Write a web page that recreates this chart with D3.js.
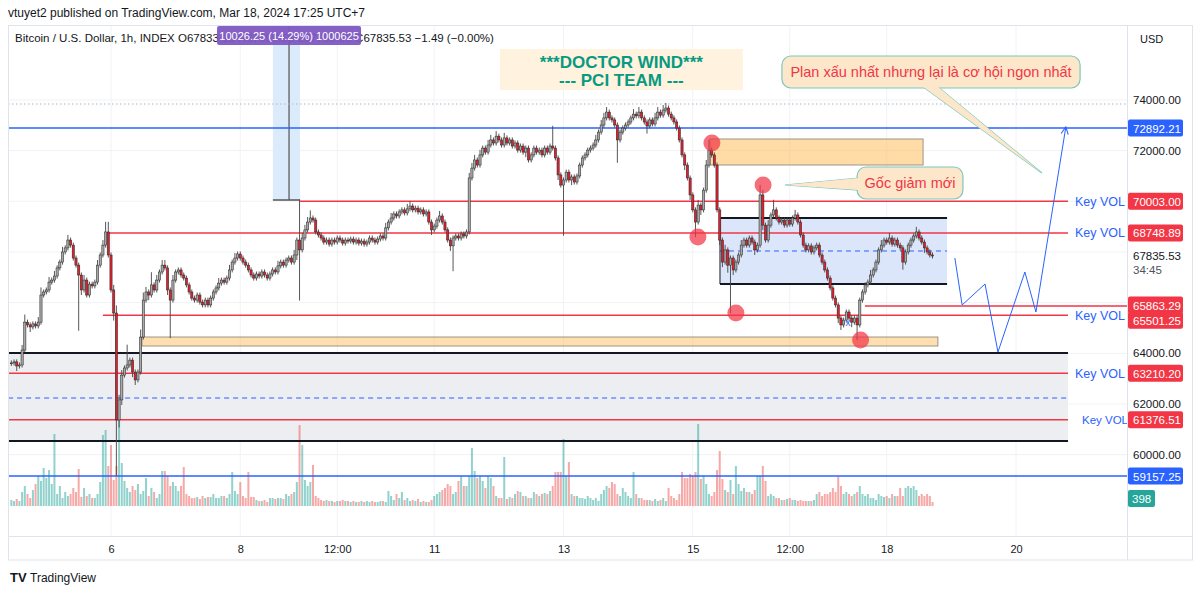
<!DOCTYPE html>
<html><head><meta charset="utf-8">
<script src="https://cdn.jsdelivr.net/npm/d3@7"></script>
<style>body{margin:0;background:#fff}svg{display:block;font-family:"Liberation Sans",Arial,sans-serif}</style>
</head><body><svg id="c" width="1200" height="592"></svg>
<script>
// ---------- DATA ----------
// hourly closes (thousand USD), first candle = Mar 4 11:00 (UTC+7)
const firstOpen = 63.60;
const closes = [
63.62,63.66,63.50,63.54,64.13,65.23,65.12,65.04,65.16,65.08,
65.23,66.30,66.42,66.50,66.81,66.89,67.05,67.37,67.60,68.00,
68.16,68.47,68.27,67.76,67.48,67.09,66.50,66.89,66.30,66.73,
66.66,66.81,67.48,67.88,68.27,68.79,67.88,66.50,65.59,61.37,
62.16,63.14,63.42,63.54,63.73,63.26,62.95,63.26,64.64,66.10,
66.42,66.30,66.70,66.50,66.89,67.21,67.48,67.37,66.50,66.10,
66.89,67.21,67.29,67.09,66.97,66.70,66.42,66.18,66.10,66.30,
66.02,65.91,66.10,65.91,66.18,66.42,66.58,66.77,66.89,66.81,
66.97,67.29,67.60,67.76,67.92,67.76,67.60,67.48,67.29,67.09,
66.97,67.13,67.05,67.21,67.09,66.97,67.13,67.29,67.21,67.45,
67.60,67.48,67.68,67.76,67.60,67.88,68.47,68.08,68.55,68.87,
69.18,69.34,69.26,68.79,68.67,68.55,68.39,68.47,68.31,68.47,
68.39,68.55,68.47,68.35,68.47,68.43,68.51,68.39,68.47,68.35,
68.43,68.31,68.39,68.55,68.47,68.39,68.51,68.63,68.55,68.95,
69.18,69.34,69.50,69.42,69.58,69.66,69.54,69.70,69.81,69.66,
69.73,69.58,69.66,69.50,69.58,69.18,68.87,69.02,69.26,69.42,
69.18,68.87,68.47,68.24,68.55,68.63,68.55,68.71,68.63,68.79,
70.92,71.31,71.63,71.43,71.83,72.10,71.94,72.22,72.42,72.30,
72.57,72.42,72.22,72.50,72.30,72.42,72.18,72.30,72.02,72.18,
71.94,72.10,71.63,71.83,72.10,71.94,72.02,71.83,72.10,71.94,
72.18,72.10,71.71,71.04,70.64,70.84,71.15,70.84,70.96,70.76,
71.00,71.43,71.71,71.83,72.02,72.10,72.22,72.42,72.73,73.01,
73.29,73.52,73.29,73.21,73.01,72.42,72.73,72.89,73.01,73.13,
73.29,73.44,73.37,73.52,73.29,73.13,72.97,73.21,73.05,73.29,
73.52,73.40,73.60,73.68,73.44,73.29,73.13,72.89,72.42,71.83,
71.43,70.92,70.25,69.66,69.18,69.85,69.66,70.44,71.43,72.02,
71.83,71.43,69.66,68.47,67.60,68.08,67.48,67.76,67.29,67.60,
67.88,68.27,68.47,68.27,68.55,68.39,68.08,68.27,70.25,69.06,
68.47,69.06,69.46,69.66,69.34,69.18,69.26,69.06,69.26,69.10,
69.34,69.46,69.18,68.67,68.27,68.08,68.24,68.00,68.16,68.27,
67.88,67.60,67.29,66.97,66.58,66.18,65.91,65.39,65.12,65.31,
65.63,65.39,65.23,65.39,65.12,66.10,66.42,66.70,66.81,67.09,
67.29,67.60,68.08,68.27,68.47,68.39,68.55,68.31,68.47,68.27,
68.16,67.60,68.00,68.27,68.47,68.63,68.79,68.55,68.39,68.16,
68.00,67.88,67.84];
// upper / lower wick lengths beyond the body (hundred USD)
const hiWick = [
1,1,1,1,2,3,1,1,1,1, 2,3,1,1,2,1,2,1,1,2, 1,2,1,1,1,1,1,2,1,1, 1,1,2,1,2,4,4,1,2,3,
2,2,1,8,1,1,1,1,3,3, 2,1,5,1,2,1,2,2,1,1, 2,1,1,1,1,1,1,1,1,1, 1,1,1,1,1,1,1,2,1,1,
1,2,1,2,1,1,1,1,1,1, 1,1,1,1,1,1,1,1,1,2, 1,1,1,1,1,2,1,16,2,2, 2,3,1,1,1,1,1,1,1,1,
1,1,1,1,1,1,1,1,1,1, 1,1,1,1,1,1,1,1,1,2, 1,2,1,1,1,1,1,2,2,1, 1,1,1,1,1,1,1,1,1,2,
1,1,1,1,1,1,1,1,1,1, 2,2,2,1,2,1,1,2,2,1, 2,1,1,2,1,1,1,1,1,1, 1,1,1,1,1,1,1,1,1,1,
1,8,1,1,1,1,1,1,1,1, 1,1,1,1,1,1,1,2,1,2, 2,2,1,1,1,1,1,1,1,1, 1,2,1,2,1,1,1,1,1,2,
2,1,2,2,1,1,1,1,1,1, 1,1,1,1,1,2,1,1,2,4, 1,1,1,1,1,2,1,1,1,1, 1,2,1,1,1,1,1,1,4,2,
1,2,1,4,1,1,1,1,1,1, 1,2,1,1,1,1,1,1,1,1, 1,1,1,1,1,1,1,1,1,1, 1,1,1,1,1,1,1,1,1,2,
1,1,1,2,1,1,2,1,1,1, 1,1,1,1,1,1,2,1,1,1, 1,1,1];
const loWick = [
1,1,2,1,1,1,1,2,1,1, 1,1,1,1,1,1,1,1,1,1, 1,1,1,1,1,22,2,1,1,1, 1,1,1,1,1,1,1,1,3,22,
3,2,1,1,1,2,2,1,1,1, 1,2,1,1,1,1,1,1,2,15, 1,1,1,1,1,1,1,1,1,1, 1,1,1,1,1,1,1,1,1,1,
1,1,1,1,1,1,1,1,1,1, 1,1,1,1,1,1,1,1,1,1, 1,1,1,1,1,1,2,20,1,1, 1,1,1,1,1,1,1,1,1,1,
1,1,1,1,1,1,1,1,1,1, 1,1,1,1,1,1,1,1,1,1, 1,1,1,1,1,1,1,1,1,1, 1,1,1,1,1,1,2,1,1,1,
1,1,1,2,10,1,1,1,1,1, 1,1,1,1,1,1,1,1,1,1, 1,1,1,1,1,1,1,1,1,1, 1,2,1,1,1,1,1,1,1,1,
1,1,1,2,1,20,1,1,2,1, 1,1,1,1,1,1,1,1,1,1, 1,1,1,1,1,9,1,1,1,1, 1,1,1,1,1,1,3,1,1,1,
1,1,1,1,1,1,1,1,1,1, 2,1,2,1,6,1,2,1,1,1, 1,1,1,2,2,1,3,19,2,1, 1,1,1,1,1,1,2,1,1,2,
1,1,1,1,1,1,1,1,1,1, 1,1,1,1,1,1,1,1,1,1, 1,1,1,1,1,1,1,2,2,1, 1,1,2,1,6,1,1,1,1,1,
1,1,1,1,1,1,1,1,1,1, 1,3,1,1,1,1,1,1,1,2, 1,1,1];
const volumes = [
6,5,7,5,14,20,12,8,16,22, 30,25,38,28,36,22,72,12,20,8, 14,10,12,18,14,37,9,18,10,12,
8,8,12,24,71,76,40,61,26,40, 86,43,25,18,14,20,16,22,12,15, 28,10,18,14,8,12,35,35,30,20,
24,20,15,20,39,12,10,8,8,9, 7,10,8,9,9,12,8,8,10,10, 8,12,34,15,12,24,10,8,34,9,
9,6,5,5,6,4,8,8,7,8, 8,7,12,10,12,14,24,81,61,26, 20,24,41,10,8,6,5,6,5,5,
4,5,5,6,5,5,4,5,4,4, 5,4,5,4,5,4,4,5,5,4, 15,10,6,12,8,14,6,8,5,6,
5,7,4,5,4,4,6,10,12,14, 16,18,22,20,12,14,25,30,20,20, 30,58,35,28,30,25,18,30,28,20,
10,8,8,49,7,9,8,12,15,14, 10,10,8,8,14,12,10,12,13,12, 15,20,34,34,34,67,30,44,12,10,
10,8,8,7,10,8,6,8,5,12, 16,20,18,24,22,12,10,18,14,10, 8,34,12,8,8,6,6,6,5,7,
5,6,8,5,18,10,8,6,12,34, 28,28,32,30,34,82,27,30,22,12, 10,14,36,55,27,16,14,26,12,40,
22,15,18,14,14,12,16,30,30,40, 25,10,12,10,8,8,6,6,7,8, 6,6,5,6,5,5,5,5,6,12,
14,10,12,12,14,18,14,29,20,12, 14,12,10,12,14,20,12,10,12,8, 8,6,12,10,9,10,8,12,10,10,
18,10,18,20,18,20,16,10,12,10, 12,10,4];

const timeTickHours = [0, 48, 84, 120, 168, 216, 252, 288, 336];   // hours after Mar 6 00:00
const timeTickLabels = ["6","8","12:00","11","13","15","12:00","18","20"];
const gridPrices = [60000,62000,64000,66000,68000,70000,72000,74000];
const axisPrices = [60000,62000,64000,72000,74000];
const redLevels = [70003.00, 68748.89, 65863.29, 65501.25, 63210.20, 61376.51];
const redLevelStart = [70.2, -1.5, 279.9, -3.0, -38.2, -38.2];   // hours
const keyVolLevels = [70003.00, 68748.89, 65501.25, 63210.20, 61376.51];
const blueLevels = [72892.21, 59157.25];
const lastPrice = 67835.53;
const circleHours = [223.1, 242.1, 217.9, 232.0, 278.3];
const circlePrices = [72300, 70643, 68590, 65591, 64525];
const pathHours = [313.3, 316.0, 324.5, 329.3, 339.3, 343.4, 354.5];
const pathPrices = [67761, 65906, 66735, 64051, 67209, 65630, 72932];

// ---------- SETUP ----------
const svg = d3.select("#c");
const L = 8, R = 1127, T = 26, B = 536;
const hDate = h => new Date(2024, 2, 6, 0, Math.round(h * 60));
const x = d3.scaleTime().domain([hDate(0), hDate(336)]).range([111, 1016]);
const y = d3.scaleLinear().domain([59157.25, 72892.21]).range([476, 128]);
const yv = d3.scaleLinear().domain([0, 100]).range([506, 406]);
const X = h => x(hDate(h));

const candles = closes.map((c, i) => {
  const o = i === 0 ? firstOpen : closes[i - 1];
  return {t: new Date(2024, 2, 4, 11 + i), o: o * 1000, c: c * 1000,
    h: (Math.max(o, c) + hiWick[i] / 10) * 1000, l: (Math.min(o, c) - loWick[i] / 10) * 1000, v: volumes[i]};
});

svg.append("rect").attr("width", 1200).attr("height", 592).attr("fill", "#fff");
svg.append("defs").append("clipPath").attr("id", "pc").append("rect")
  .attr("x", L).attr("y", T).attr("width", R - L).attr("height", B - T);
svg.select("defs").append("marker").attr("id", "arr").attr("viewBox", "0 0 10 10")
  .attr("refX", 9).attr("refY", 5).attr("markerWidth", 9).attr("markerHeight", 9).attr("orient", "auto")
  .append("path").attr("d", "M1,1 L9,5 L1,9").attr("fill", "none").attr("stroke", "#2962FF").attr("stroke-width", 1.2);

// header
svg.append("text").attr("x", 8).attr("y", 17).attr("font-size", 12).attr("fill", "#131722")
  .text("vtuyet2 published on TradingView.com, Mar 18, 2024 17:25 UTC+7");

const plot = svg.append("g").attr("clip-path", "url(#pc)");

// grid
plot.selectAll(".gh").data(gridPrices).join("line").attr("x1", L).attr("x2", R)
  .attr("y1", d => y(d)).attr("y2", d => y(d)).attr("stroke", "#F0F2F5");
plot.selectAll(".gv").data(timeTickHours).join("line").attr("y1", T).attr("y2", B)
  .attr("x1", d => X(d)).attr("x2", d => X(d)).attr("stroke", "#F0F2F5");

// gray zone
plot.append("rect").attr("x", X(-38.2)).attr("width", X(355.3) - X(-38.2))
  .attr("y", y(64010)).attr("height", y(60540) - y(64010)).attr("fill", "#EDEEF1");
plot.append("line").attr("x1", X(-38.2)).attr("x2", X(355.3)).attr("y1", y(62235)).attr("y2", y(62235))
  .attr("stroke", "#2962FF").attr("stroke-dasharray", "5,4");
// blue range box
plot.append("rect").attr("x", X(226.1)).attr("width", X(310.4) - X(226.1))
  .attr("y", y(69340)).attr("height", y(66735) - y(69340)).attr("fill", "#DCE6FB");
plot.append("line").attr("x1", X(226.1)).attr("x2", X(310.4)).attr("y1", y(68038)).attr("y2", y(68038))
  .attr("stroke", "#2962FF").attr("stroke-dasharray", "5,4");

// measurement tool
plot.append("rect").attr("x", X(60.1)).attr("width", X(70.2) - X(60.1)).attr("y", T)
  .attr("height", y(70050) - T).attr("fill", "#DCEBFB");
plot.append("line").attr("x1", X(66.1)).attr("x2", X(66.1)).attr("y1", T).attr("y2", y(70050)).attr("stroke", "#333");
plot.append("line").attr("x1", X(60.1)).attr("x2", X(70.2)).attr("y1", y(70050)).attr("y2", y(70050)).attr("stroke", "#555").attr("stroke-width", 1.5);

// dotted high line
plot.append("line").attr("x1", L).attr("x2", R).attr("y1", y(73839)).attr("y2", y(73839))
  .attr("stroke", "#B2B5BE").attr("stroke-dasharray", "1.5,2.5");

// volume
plot.selectAll(".vol").data(candles).join("rect")
  .attr("x", d => x(d.t) - 1).attr("width", 2)
  .attr("y", d => yv(d.v)).attr("height", d => yv(0) - yv(d.v))
  .attr("fill", d => d.c >= d.o ? "#26A69A" : "#EF5350").attr("opacity", 0.5);

// orange zones
plot.append("rect").attr("x", X(222.4)).attr("width", X(301.5) - X(222.4))
  .attr("y", y(72458)).attr("height", y(71432) - y(72458))
  .attr("fill", "rgba(255,183,77,0.5)").attr("stroke", "#9E9484").attr("stroke-width", 1);
plot.append("rect").attr("x", X(11.5)).attr("width", X(307) - X(11.5))
  .attr("y", y(64643)).attr("height", y(64288) - y(64643))
  .attr("fill", "rgba(255,183,77,0.45)").attr("stroke", "#9E9484").attr("stroke-width", 1);

// black box lines
[64010, 60540].forEach(p => plot.append("line").attr("x1", X(-38.2)).attr("x2", X(355.3))
  .attr("y1", y(p)).attr("y2", y(p)).attr("stroke", "#131722").attr("stroke-width", 2));
[69340, 66735].forEach(p => plot.append("line").attr("x1", X(226.1)).attr("x2", X(310.4))
  .attr("y1", y(p)).attr("y2", y(p)).attr("stroke", "#131722").attr("stroke-width", 2));
plot.append("line").attr("x1", X(226.1)).attr("x2", X(226.1)).attr("y1", y(69340)).attr("y2", y(66735)).attr("stroke", "#131722");

// blue levels
plot.selectAll(".bl").data(blueLevels).join("line").attr("x1", L).attr("x2", R)
  .attr("y1", d => y(d)).attr("y2", d => y(d)).attr("stroke", "#2962FF").attr("stroke-width", 1.5);
// red levels
plot.selectAll(".rl").data(redLevels).join("line")
  .attr("x1", (d, i) => X(redLevelStart[i])).attr("x2", (d, i) => i === 2 ? R : X(355.3))
  .attr("y1", d => y(d)).attr("y2", d => y(d)).attr("stroke", "#F23645").attr("stroke-width", 1.5);

// candles
const cg = plot.append("g");
cg.selectAll(".wick").data(candles).join("line")
  .attr("x1", d => x(d.t)).attr("x2", d => x(d.t)).attr("y1", d => y(d.h)).attr("y2", d => y(d.l))
  .attr("stroke", "#444").attr("stroke-width", 0.9);
cg.selectAll(".body").data(candles).join("rect")
  .attr("x", d => x(d.t) - 1.1).attr("width", 2.2)
  .attr("y", d => y(Math.max(d.o, d.c))).attr("height", d => Math.max(0.8, Math.abs(y(d.o) - y(d.c))))
  .attr("fill", d => d.c >= d.o ? "#a9a9a9" : "#E0202E").attr("stroke", "#2a2a2a").attr("stroke-width", 0.55);

// red circles
plot.selectAll(".cir").data(circleHours).join("circle")
  .attr("cx", d => X(d)).attr("cy", (d, i) => y(circlePrices[i])).attr("r", 8.5)
  .attr("fill", "#F23645").attr("opacity", 0.72);
plot.append("text").attr("x", X(273.6)).attr("y", y(65235) + 4).attr("font-size", 10).attr("fill", "#2962FF").attr("text-anchor", "middle").text("x");

// projection path
plot.append("path").datum(pathHours.map((h, i) => [X(h), y(pathPrices[i])]))
  .attr("d", d3.line()).attr("fill", "none").attr("stroke", "#2962FF").attr("stroke-width", 1).attr("marker-end", "url(#arr)");

// Key VOL labels
plot.selectAll(".kv").data(keyVolLevels).join("text")
  .attr("x", (d, i) => i === 4 ? X(360.5) : X(357.9)).attr("y", d => y(d) + 4.5)
  .attr("font-size", (d, i) => i === 4 ? 11.5 : 12.5).attr("fill", "#2962FF").text("Key VOL");

// DOCTOR WIND box
plot.append("rect").attr("x", X(144.4)).attr("width", X(234.6) - X(144.4))
  .attr("y", y(76010)).attr("height", y(74392) - y(76010)).attr("fill", "#FFF2DF");
plot.append("text").attr("x", (X(144.4) + X(234.6)) / 2).attr("y", y(75497) + 6).attr("text-anchor", "middle")
  .attr("font-size", 17).attr("font-weight", "bold").attr("fill", "#089981").text("***DOCTOR WIND***");
plot.append("text").attr("x", (X(144.4) + X(234.6)) / 2).attr("y", y(74787) + 6).attr("text-anchor", "middle")
  .attr("font-size", 17).attr("font-weight", "bold").attr("fill", "#089981").text("--- PCI TEAM ---");

// callouts
function callout(h0, h1, pTop, pBot, tail, label) {
  const g = plot.append("g");
  g.append("polygon").attr("points", tail.map(p => [X(p[0]), y(p[1])].join(",")).join(" "))
    .attr("fill", "#FDE7CB").attr("stroke", "#7CC7BD").attr("stroke-width", 1.2);
  g.append("rect").attr("x", X(h0)).attr("width", X(h1) - X(h0)).attr("y", y(pTop)).attr("height", y(pBot) - y(pTop))
    .attr("rx", 9).attr("fill", "#FDE7CB").attr("stroke", "#7CC7BD").attr("stroke-width", 1.2);
  g.append("polygon").attr("points", tail.map(p => [X(p[0]), y(p[1])].join(",")).join(" "))
    .attr("fill", "#FDE7CB");
  g.append("text").attr("x", (X(h0) + X(h1)) / 2).attr("y", (y(pTop) + y(pBot)) / 2 + 5.5)
    .attr("text-anchor", "middle").attr("font-size", 14.5).attr("fill", "#F23645").text(label);
}
callout(249.1, 359.8, 75734, 74471, [[301.5, 74520], [345.6, 71116], [307.0, 74520]], "Plan xấu nhất nhưng lại là cơ hội ngon nhất");
callout(277.0, 316.3, 71353, 70090, [[277.6, 70919], [250.2, 70643], [277.6, 70445]], "Gốc giảm mới");

// borders
svg.append("line").attr("x1", L).attr("x2", 1192).attr("y1", B + 0.5).attr("y2", B + 0.5).attr("stroke", "#E0E3EB");
svg.append("line").attr("x1", R + 0.5).attr("x2", R + 0.5).attr("y1", T).attr("y2", 560).attr("stroke", "#E0E3EB");
svg.append("rect").attr("x", L + 0.5).attr("y", T - 0.5).attr("width", 1192 - L).attr("height", 560 - T + 0.5)
  .attr("fill", "none").attr("stroke", "#E0E3EB");

// symbol header + measurement label (label overlays the header as in the original)
svg.append("text").attr("x", 15).attr("y", 42).attr("font-size", 11.5).attr("fill", "#131722")
  .text("Bitcoin / U.S. Dollar, 1h, INDEX  O67833.15 H67957.56 L67700.96 C67835.53 −1.49 (−0.00%)");
svg.append("rect").attr("x", X(66.1) - 72).attr("y", 26).attr("width", 144).attr("height", 19).attr("rx", 2).attr("fill", "#7E57C2").attr("opacity", 0.95);
svg.append("text").attr("x", X(66.1)).attr("y", 39.5).attr("text-anchor", "middle").attr("font-size", 11).attr("fill", "#fff")
  .text("10026.25 (14.29%) 1000625");
svg.append("text").attr("x", 1140).attr("y", 43).attr("font-size", 11).attr("fill", "#131722").text("USD");

// time axis
const xAxis = d3.axisBottom(x).tickValues(timeTickHours.map(hDate)).tickFormat((d, i) => timeTickLabels[i]).tickSize(0).tickPadding(8);
const gx = svg.append("g").attr("transform", `translate(0,${B + 1})`).call(xAxis);
gx.select(".domain").remove();
gx.selectAll("text").attr("font-size", 11).attr("fill", "#131722").attr("font-family", "Liberation Sans Narrow, Liberation Sans, Arial");

// price axis
const yAxis = d3.axisRight(y).tickValues(axisPrices).tickFormat(d => d3.format(".2f")(d)).tickSize(0).tickPadding(6);
const gy = svg.append("g").attr("transform", `translate(${R},0)`).call(yAxis);
gy.select(".domain").remove();
gy.selectAll("text").attr("font-size", 11.5).attr("fill", "#131722");

// price labels
const priceLabels = [
  {p: 72892.21, c: "#2962FF", dy: 0}, {p: 70003.00, c: "#F23645", dy: 0}, {p: 68748.89, c: "#F23645", dy: 0},
  {p: 65863.29, c: "#F23645", dy: -1}, {p: 65501.25, c: "#F23645", dy: 5}, {p: 63210.20, c: "#F23645", dy: 0},
  {p: 61376.51, c: "#F23645", dy: 0}, {p: 59157.25, c: "#2962FF", dy: 0}];
const pl = svg.selectAll(".pl").data(priceLabels).join("g").attr("transform", d => `translate(${R + 1},${y(d.p) + d.dy})`);
pl.append("rect").attr("x", 0).attr("y", -8.5).attr("width", 55).attr("height", 17).attr("rx", 2).attr("fill", d => d.c);
pl.append("text").attr("x", 5).attr("y", 4.5).attr("font-size", 11.5).attr("fill", "#fff").text(d => d3.format(".2f")(d.p));
svg.append("text").attr("x", R + 6).attr("y", y(lastPrice) + 4).attr("font-size", 11.5).attr("fill", "#131722").text(d3.format(".2f")(lastPrice));
svg.append("text").attr("x", R + 6).attr("y", y(lastPrice) + 18).attr("font-size", 11.5).attr("fill", "#50535E").text("34:45");
svg.append("rect").attr("x", R + 1).attr("y", yv(volumes[volumes.length - 1]) - 12).attr("width", 27).attr("height", 17).attr("rx", 2).attr("fill", "#26A69A");
svg.append("text").attr("x", R + 5).attr("y", yv(volumes[volumes.length - 1]) + 0.5).attr("font-size", 11.5).attr("fill", "#fff").text("398");

// footer logo
svg.append("text").attr("x", 10).attr("y", 582).attr("font-size", 13).attr("font-weight", "bold").attr("fill", "#131722").text("TV");
svg.append("text").attr("x", 30).attr("y", 582).attr("font-size", 12).attr("fill", "#131722").text("TradingView");
</script></body></html>
